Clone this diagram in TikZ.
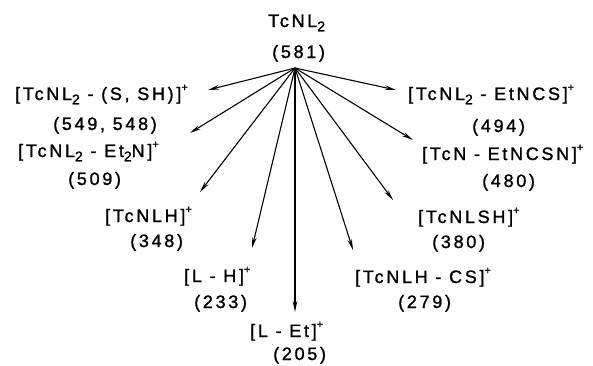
\documentclass[tikz,border=0pt]{standalone}
\usepackage{fontspec}
\setmainfont[LetterSpace=15,FakeBold=1.3]{Liberation Sans}
\usetikzlibrary{arrows.meta}
% small raised charge sign and lowered subscript digit
\newcommand\chg{\raisebox{0.95ex}{\fontsize{11}{11}\selectfont +}}
\newcommand\lsub[1]{\raisebox{-0.45ex}{\fontsize{14}{14}\selectfont #1}}
\begin{document}
\begin{tikzpicture}[x=1pt,y=-1pt,
  lbl/.style={anchor=base west,inner sep=0pt,font=\fontsize{18}{18}\selectfont},
  frag/.style={line width=1.1pt,-{Stealth[length=11pt,width=4.5pt]}}]
\useasboundingbox (0,0) rectangle (593,365);

% parent ion
\node[lbl] (par) at (268,27) {TcNL\lsub{2}};
\node[lbl] (parm) at (272,58) {(581)};
\coordinate (hub) at (295,68);

% fragment ions, left side
\node[lbl] (sh) at (15,100) {[TcNL\lsub{2} - (S, SH)]\chg};
\node[lbl] (shm) at (53,130) {(549, 548)};
\node[lbl] (et2n) at (18,157) {[TcNL\lsub{2} - Et\lsub{2}N]\chg};
\node[lbl] (et2nm) at (68,185) {(509)};
\node[lbl] (nlh) at (105,222) {[TcNLH]\chg};
\node[lbl] (nlhm) at (130,247) {(348)};
\node[lbl] (lh) at (184,282) {[L - H]\chg};
\node[lbl] (lhm) at (194,308) {(233)};

% bottom
\node[lbl] (let) at (250,337) {[L - Et]\chg};
\node[lbl] (letm) at (273,360) {(205)};

% fragment ions, right side
\node[lbl] (cs) at (355,283) {[TcNLH - CS]\chg};
\node[lbl] (csm) at (398,308) {(279)};
\node[lbl] (lsh) at (418,223) {[TcNLSH]\chg};
\node[lbl] (lshm) at (432,248) {(380)};
\node[lbl] (ncsn) at (422,160) {[TcN - EtNCSN]\chg};
\node[lbl] (ncsnm) at (482,187) {(480)};
\node[lbl] (ncs) at (408,100) {[TcNL\lsub{2} - EtNCS]\chg};
\node[lbl] (ncsm) at (472,132) {(494)};

% arrow tips
\coordinate (tsh) at (208,90);
\coordinate (tet2n) at (190,133);
\coordinate (tnlh) at (200,192);
\coordinate (tlh) at (252,248);
\coordinate (tlet) at (295,312);
\coordinate (tcs) at (353,250);
\coordinate (tlsh) at (393,200);
\coordinate (tncsn) at (413,140);
\coordinate (tncs) at (396,90);

\foreach \t in {tsh,tet2n,tnlh,tlh,tlet,tcs,tlsh,tncsn,tncs}
  \draw[frag] (hub) -- (\t);
\end{tikzpicture}
\end{document}
